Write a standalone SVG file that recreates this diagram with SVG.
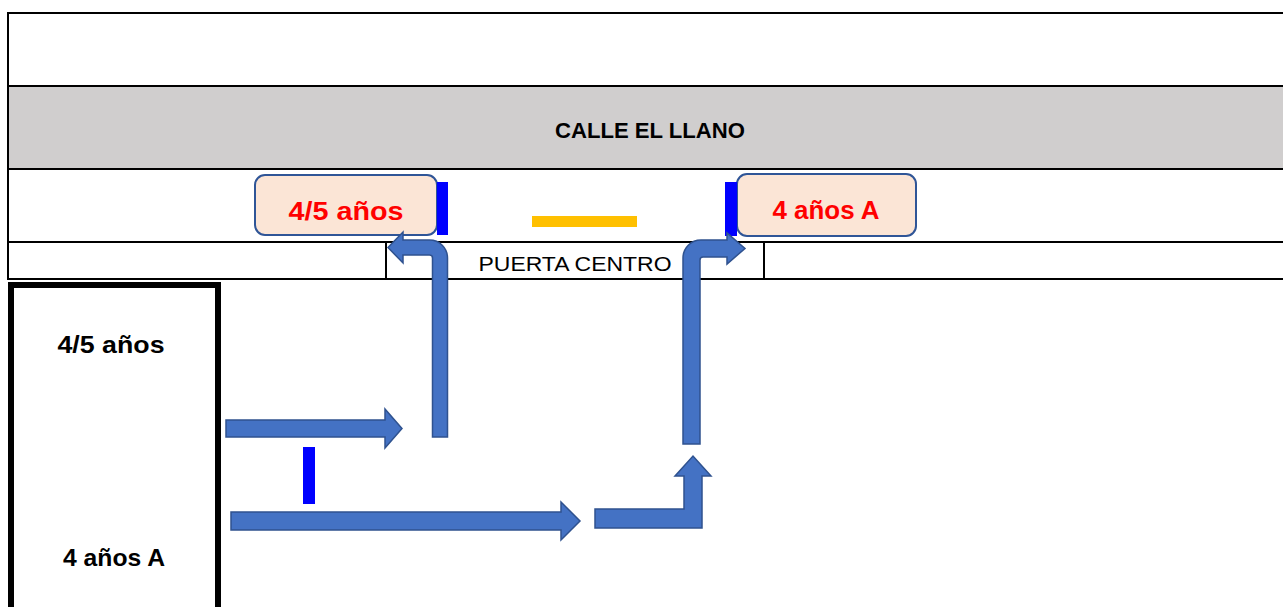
<svg xmlns="http://www.w3.org/2000/svg" width="1283" height="607" viewBox="0 0 1283 607">
<style>
.ln{stroke:#000;stroke-width:2;fill:none}
.box{fill:#FBE5D6;stroke:#2F5597;stroke-width:2}
.red{font-family:"Liberation Sans",Arial,sans-serif;font-weight:bold;font-size:25px;fill:#FF0000;text-anchor:middle}
.blk{font-family:"Liberation Sans",Arial,sans-serif;font-weight:bold;font-size:24px;fill:#000;text-anchor:middle}
.arr{fill:#4472C4;stroke:#2F528F;stroke-width:1.5;stroke-linejoin:miter}
.bar{fill:#0000FF}
</style>
<rect x="0" y="0" width="1283" height="607" fill="#fff"/>
<g id="street">
<rect x="8" y="86" width="1275" height="83" fill="#D0CECE"/>
<line class="ln" x1="7" y1="13" x2="1283" y2="13"/>
<line class="ln" x1="7" y1="86" x2="1283" y2="86"/>
<line class="ln" x1="7" y1="169" x2="1283" y2="169"/>
<line class="ln" x1="7" y1="242" x2="1283" y2="242"/>
<line class="ln" x1="7" y1="279" x2="1283" y2="279"/>
<line class="ln" x1="8" y1="12" x2="8" y2="280"/>
<line class="ln" x1="386" y1="242" x2="386" y2="279"/>
<line class="ln" x1="764" y1="242" x2="764" y2="279"/>
<text x="650" y="138" font-family="'Liberation Sans',Arial,sans-serif" font-weight="bold" font-size="22" text-anchor="middle" textLength="190" lengthAdjust="spacingAndGlyphs">CALLE EL LLANO</text>
</g>
<g id="puerta-centro">
<text x="575" y="271" font-family="'Liberation Sans',Arial,sans-serif" font-size="21" text-anchor="middle" textLength="193" lengthAdjust="spacingAndGlyphs">PUERTA CENTRO</text>
<rect x="532" y="216" width="105" height="11" fill="#FFC000"/>
</g>
<g id="building">
<rect x="11" y="285" width="207" height="340" fill="none" stroke="#000" stroke-width="6"/>
<text class="blk" x="111" y="353" textLength="107" lengthAdjust="spacingAndGlyphs">4/5 años</text>
<text class="blk" x="114" y="566" textLength="102" lengthAdjust="spacingAndGlyphs">4 años A</text>
</g>
<g id="node-45">
<rect class="box" x="255" y="175" width="182" height="60" rx="10"/>
<text class="red" x="346" y="220" textLength="115" lengthAdjust="spacingAndGlyphs">4/5 años</text>
<rect class="bar" x="437" y="182" width="11" height="53"/>
</g>
<g id="node-4A">
<rect class="box" x="737" y="174" width="179" height="62" rx="10"/>
<text class="red" x="826" y="219" textLength="107" lengthAdjust="spacingAndGlyphs">4 años A</text>
<rect class="bar" x="725" y="182" width="12" height="54"/>
</g>
<g id="connectors">
<path class="arr" d="M226,420 L385,420 L385,409 L402,428.5 L385,448 L385,437 L226,437 Z"/>
<path class="arr" d="M432.5,437 L432.5,258 Q432.5,255 429.5,255 L403,255 L403,263 L388,247.5 L403,232 L403,240 L429.5,240 A18,18 0 0 1 447.5,258 L447.5,437 Z"/>
<path class="arr" d="M231,512 L561,512 L561,502 L580,521 L561,540 L561,530 L231,530 Z"/>
<path class="arr" d="M595,509 L684,509 L684,476 L675,476 L693,456 L711,476 L702,476 L702,528 L595,528 Z"/>
<path class="arr" d="M683,444 L683,258 A18,18 0 0 1 701,240 L727,240 L727,233 L745,248.5 L727,264 L727,257 L703,257 Q700,257 700,260 L700,444 Z"/>
<rect class="bar" x="303" y="447" width="12" height="57"/>
</g>
</svg>
